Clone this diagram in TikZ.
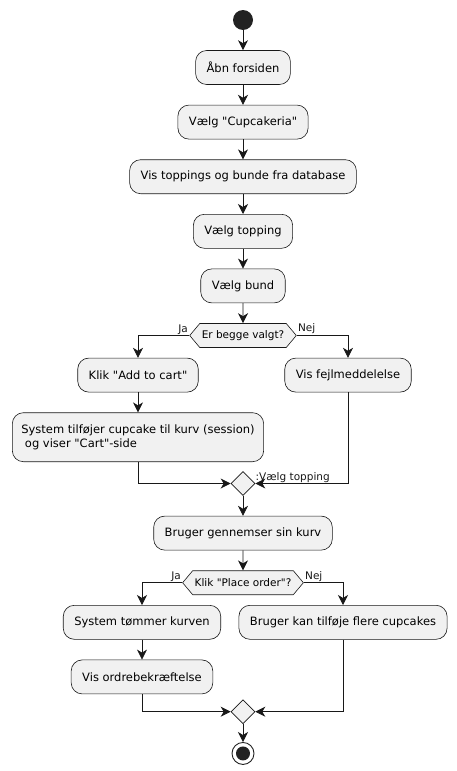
\documentclass[tikz,border=0pt]{standalone}
\usepackage{fontspec}
\setmainfont{DejaVu Sans}[Ligatures=TeXOff]
\usetikzlibrary{arrows.meta, positioning, shapes.geometric, shapes.symbols, calc}
\definecolor{umlfill}{HTML}{F1F1F1}
\definecolor{umlline}{HTML}{181818}
\definecolor{umldot}{HTML}{222222}

\begin{document}
\begin{tikzpicture}[
        x=1pt, y=1pt,
        font=\fontsize{11.5}{14}\selectfont,
        node distance=20pt,
        act/.style={draw=umlline, fill=umlfill, rounded corners=11pt, line width=0.6pt,
                    minimum height=34pt, inner xsep=11pt, inner ysep=4pt},
        ask/.style={signal, signal to=west and east, signal pointer angle=100,
                    draw=umlline, fill=umlfill, line width=0.6pt, minimum height=24pt,
                    inner xsep=2pt, inner ysep=2pt, font=\fontsize{10.5}{12}\selectfont},
        merge/.style={diamond, draw=umlline, fill=umlfill, line width=0.6pt,
                      minimum size=24pt, inner sep=0pt},
        startdot/.style={circle, fill=umldot, minimum size=20pt, inner sep=0pt},
        stopdot/.style={circle, draw=umldot, line width=0.9pt, minimum size=22pt, inner sep=0pt,
                        path picture={\fill[umldot] (path picture bounding box.center) circle (7pt);}},
        arr/.style={-{Stealth[length=10pt, width=10pt, inset=3pt]}, umlline, line width=0.8pt},
        lbl/.style={font=\fontsize{10.5}{12}\selectfont, inner sep=1pt},
      ]
        \useasboundingbox (0,0) rectangle (457,-771);
        \node[startdot] (start) at (243,-20) {};
        \node[act, below=of start] (aabn) {Åbn forsiden};
        \node[act, below=of aabn] (cupcakeria) {Vælg "Cupcakeria"};
        \node[act, below=of cupcakeria] (vis) {Vis toppings og bunde fra database};
        \node[act, below=of vis] (topping) {Vælg topping};
        \node[act, below=of topping] (bund) {Vælg bund};
        \node[ask, below=of bund] (valgt) {Er begge valgt?};
        \node[act, below=10pt of valgt, xshift=-105pt] (addcart) {Klik "Add to cart"};
        \node[act, below=10pt of valgt, xshift=105pt] (fejl) {Vis fejlmeddelelse};
        \node[act, below=of addcart, minimum height=49pt, inner xsep=9pt, align=left] (tilfoej)
            {System tilføjer cupcake til kurv (session)\\\ og viser "Cart"-side};
        \node[merge] (merge1) at ($(valgt)+(0,-148)$) {};
        \node[act, below=of merge1] (kurv) {Bruger gennemser sin kurv};
        \node[ask, below=of kurv] (order) {Klik "Place order"?};
        \node[act, below=10pt of order, xshift=-101pt] (tommer) {System tømmer kurven};
        \node[act, below=10pt of order, xshift=100pt] (flere) {Bruger kan tilføje flere cupcakes};
        \node[act, below=of tommer] (bekraeft) {Vis ordrebekræftelse};
        \node[merge] (merge2) at ($(order)+(0,-129)$) {};
        \node[stopdot, below=18pt of merge2] (stop) {};

        \draw[arr] (start) -- (aabn);
        \draw[arr] (aabn) -- (cupcakeria);
        \draw[arr] (cupcakeria) -- (vis);
        \draw[arr] (vis) -- (topping);
        \draw[arr] (topping) -- (bund);
        \draw[arr] (bund) -- (valgt);
        \draw[arr] (valgt.west) -| node[lbl, pos=0, above left] {Ja} (addcart);
        \draw[arr] (valgt.east) -| node[lbl, pos=0, above right] {Nej} (fejl);
        \draw[arr] (addcart) -- (tilfoej);
        \draw[arr] (tilfoej) |- (merge1);
        \draw[arr] (fejl) |- node[lbl, pos=1, above right, inner sep=0pt] {:Vælg topping} (merge1);
        \draw[arr] (merge1) -- (kurv);
        \draw[arr] (kurv) -- (order);
        \draw[arr] (order.west) -| node[lbl, pos=0, above left] {Ja} (tommer);
        \draw[arr] (order.east) -| node[lbl, pos=0, above right] {Nej} (flere);
        \draw[arr] (tommer) -- (bekraeft);
        \draw[arr] (bekraeft) |- (merge2);
        \draw[arr] (flere) |- (merge2);
        \draw[arr] (merge2) -- (stop);
      \end{tikzpicture}
\end{document}
